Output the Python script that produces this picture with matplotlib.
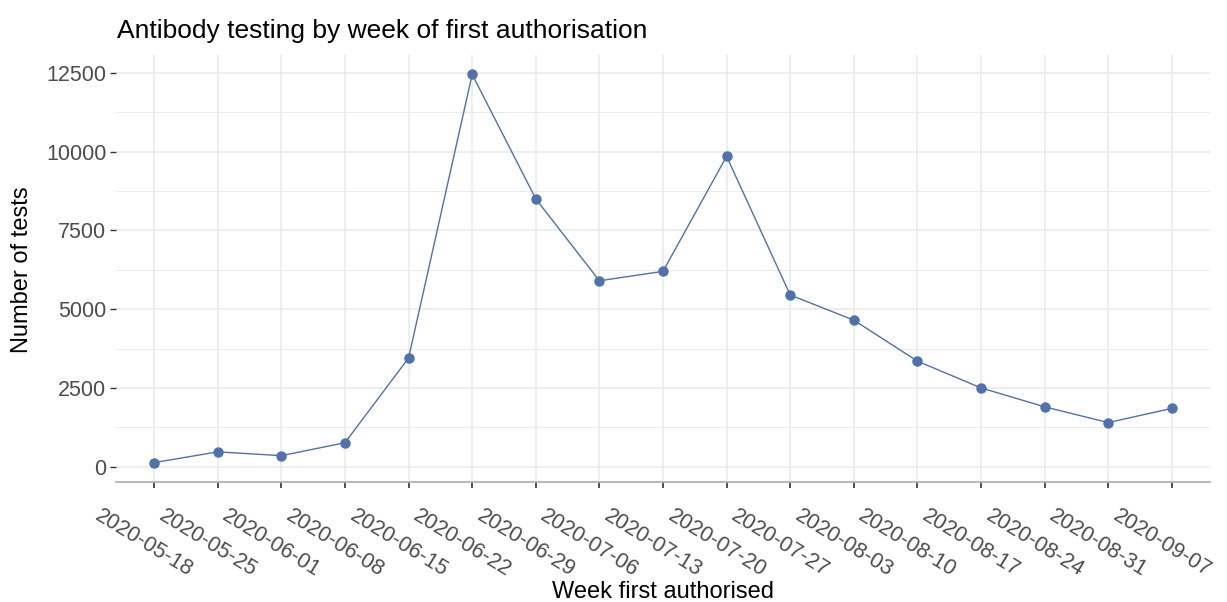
import matplotlib
matplotlib.use('Agg')
import matplotlib.pyplot as plt
from matplotlib.transforms import ScaledTranslation
from matplotlib.ticker import MultipleLocator

weeks = ['2020-05-18', '2020-05-25', '2020-06-01', '2020-06-08', '2020-06-15',
         '2020-06-22', '2020-06-29', '2020-07-06', '2020-07-13', '2020-07-20',
         '2020-07-27', '2020-08-03', '2020-08-10', '2020-08-17', '2020-08-24',
         '2020-08-31', '2020-09-07']
tests = [130, 470, 350, 760, 3450, 12450, 8500, 5900, 6200, 9850,
         5450, 4650, 3350, 2500, 1900, 1400, 1850]

plt.rcParams['font.family'] = ['Liberation Sans', 'DejaVu Sans']

line_col = '#5171A9'
grid_col = '#EBEBEB'

fig = plt.figure(figsize=(12.27, 6.02), dpi=100)
ax = fig.add_axes([116 / 1227, 1 - 482 / 602, (1210 - 116) / 1227, (482 - 55) / 602])

x = list(range(len(weeks)))
ax.plot(x, tests, color=line_col, lw=1.0, marker='o', markersize=6.5, zorder=3)

# ggplot-ish expansion
ax.set_xlim(-0.6, len(weeks) - 1 + 0.6)
span = max(tests) - min(tests)
ax.set_ylim(min(tests) - 0.05 * span, max(tests) + 0.05 * span)

ax.set_xticks(x)
ax.set_xticklabels(weeks, rotation=-31.5, rotation_mode='anchor', ha='center', va='center',
                   fontsize=15.5, color='#4D4D4D')
ax.yaxis.set_major_locator(MultipleLocator(2500))
ax.yaxis.set_minor_locator(MultipleLocator(1250))
ax.tick_params(axis='y', which='major', labelsize=15.5, labelcolor='#4D4D4D',
               length=4, width=1.0, color='#333333', pad=3)
ax.tick_params(axis='y', which='minor', length=0)
ax.tick_params(axis='x', length=4, width=1.2, color='#333333', pad=0)

for lab in ax.get_xticklabels():
    lab.set_transform(lab.get_transform() + ScaledTranslation(-0.10, -0.56, fig.dpi_scale_trans))

ax.grid(which='major', color=grid_col, lw=1.2)
ax.grid(which='minor', axis='y', color=grid_col, lw=0.7)
ax.set_axisbelow(True)

for side in ['top', 'right', 'left']:
    ax.spines[side].set_visible(False)
ax.spines['bottom'].set_color('#B3B3B3')
ax.spines['bottom'].set_linewidth(1.3)

fig.text(117 / 1227, 1 - 38 / 602, 'Antibody testing by week of first authorisation',
         fontsize=19, color='black', ha='left', va='baseline')
fig.text(663 / 1227, 4 / 602, 'Week first authorised', fontsize=17, color='black',
         ha='center', va='baseline')
fig.text(22 / 1227, 1 - 270 / 602, 'Number of tests', fontsize=17, color='black',
         ha='center', va='center', rotation=90)

fig.savefig('out.png', dpi=100)
